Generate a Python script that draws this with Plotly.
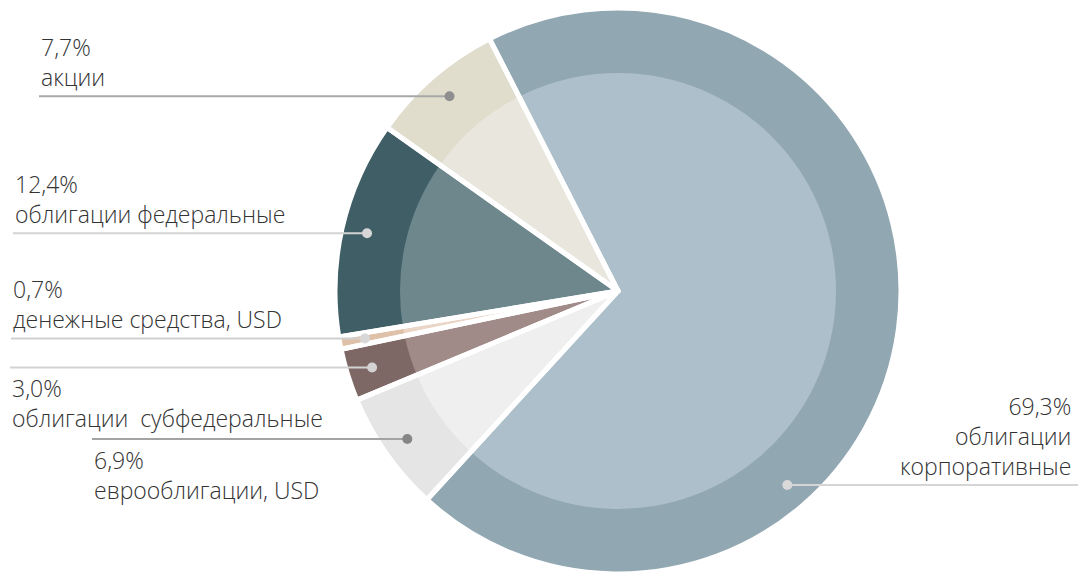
import math
import plotly.graph_objects as go

# ── Data ─────────────────────────────────────────────────────────────
labels = [
    "облигации<br>корпоративные",
    "еврооблигации, USD",
    "облигации  субфедеральные",
    "денежные средства, USD",
    "облигации федеральные",
    "акции",
]
values = [69.3, 6.9, 3.0, 0.7, 12.4, 7.7]
value_text = ["69,3%", "6,9%", "3,0%", "0,7%", "12,4%", "7,7%"]

outer_colors = ["#91a7b2", "#e5e5e5", "#7d6866", "#dfc0a9", "#3f5e66", "#e0ddcd"]
inner_colors = ["#adbfca", "#eeefee", "#a08b88", "#ead5c6", "#6d878d", "#e9e7dd"]
line_colors = ["#d5d5d5", "#a3a3a3", "#d3d3d3", "#d0d0d0", "#d3d3d3", "#a8a8a8"]
dot_colors = ["#d9d9d9", "#868686", "#d3d3d3", "#d8d8d8", "#d6d6d6", "#8f8f8f"]

# ── Geometry (pixels) ────────────────────────────────────────────────
W, H = 1080, 576
CX, CY = 618, 291
R_OUT = 283
R_IN = 218
ROTATION = -27
DOT_R = 0.91 * R_OUT

# label layout: text x, alignment, text above/below the line, far end of line
label_layout = [
    dict(x=1073, align="right", above=True, line_end=1078, angle=138.9),
    dict(x=92, align="left", above=False, line_end=92, angle=None),
    dict(x=10, align="left", above=False, line_end=10, angle=None),
    dict(x=11, align="left", above=True, line_end=11, angle=None),
    dict(x=13, align="left", above=True, line_end=13, angle=None),
    dict(x=39, align="left", above=True, line_end=39, angle=None),
]


def px_x(x):
    return x / W


def px_y(y):
    return 1 - y / H


def domain(r):
    return dict(
        x=[px_x(CX - r), px_x(CX + r)],
        y=[px_y(CY + r), px_y(CY - r)],
    )


fig = go.Figure()

# outer ring
fig.add_trace(go.Pie(
    values=values, labels=labels, sort=False, direction="clockwise",
    rotation=ROTATION, textinfo="none", hoverinfo="skip", showlegend=False,
    marker=dict(colors=outer_colors, line=dict(color="white", width=0)),
    domain=domain(R_OUT),
))
# inner lighter disc
fig.add_trace(go.Pie(
    values=values, labels=labels, sort=False, direction="clockwise",
    rotation=ROTATION, textinfo="none", hoverinfo="skip", showlegend=False,
    marker=dict(colors=inner_colors, line=dict(color="white", width=0)),
    domain=domain(R_IN),
))
# white separators on top
fig.add_trace(go.Pie(
    values=values, labels=labels, sort=False, direction="clockwise",
    rotation=ROTATION, textinfo="none", hoverinfo="skip", showlegend=False,
    marker=dict(colors=["rgba(0,0,0,0)"] * len(values),
                line=dict(color="white", width=5)),
    domain=domain(R_OUT),
))

# ── Leader lines, dots and labels ────────────────────────────────────
total = sum(values)
start = ROTATION
shapes = []
annotations = []
for i, v in enumerate(values):
    span = v / total * 360
    mid = start + span / 2
    start += span
    lay = label_layout[i]
    ang = lay["angle"] if lay["angle"] is not None else mid
    a = math.radians(ang)
    dx = CX + DOT_R * math.sin(a)
    dy = CY - DOT_R * math.cos(a)

    shapes.append(dict(
        type="line", xref="paper", yref="paper", layer="above",
        x0=px_x(lay["line_end"]), x1=px_x(dx), y0=px_y(dy), y1=px_y(dy),
        line=dict(color=line_colors[i], width=2),
    ))
    shapes.append(dict(
        type="circle", xref="paper", yref="paper", layer="above",
        x0=px_x(dx - 5), x1=px_x(dx + 5), y0=px_y(dy + 5), y1=px_y(dy - 5),
        fillcolor=dot_colors[i], line=dict(width=0),
    ))

    if lay["above"]:
        ty, yanchor = px_y(dy - 1), "bottom"
    else:
        ty, yanchor = px_y(dy + 3), "top"
    annotations.append(dict(
        xref="paper", yref="paper", x=px_x(lay["x"]), y=ty,
        xanchor=lay["align"], yanchor=yanchor, align=lay["align"],
        text=f"{value_text[i]}<br>{labels[i]}", showarrow=False,
        font=dict(size=23, color="#333333", family="Open Sans", weight=300),
    ))

fig.update_layout(
    width=W, height=H,
    margin=dict(l=0, r=0, t=0, b=0),
    paper_bgcolor="white",
    plot_bgcolor="white",
    shapes=shapes,
    annotations=annotations,
)

fig.write_html(
    "out.html",
    config={"displayModeBar": False},
    post_script="document.body.style.margin='0';",
)
